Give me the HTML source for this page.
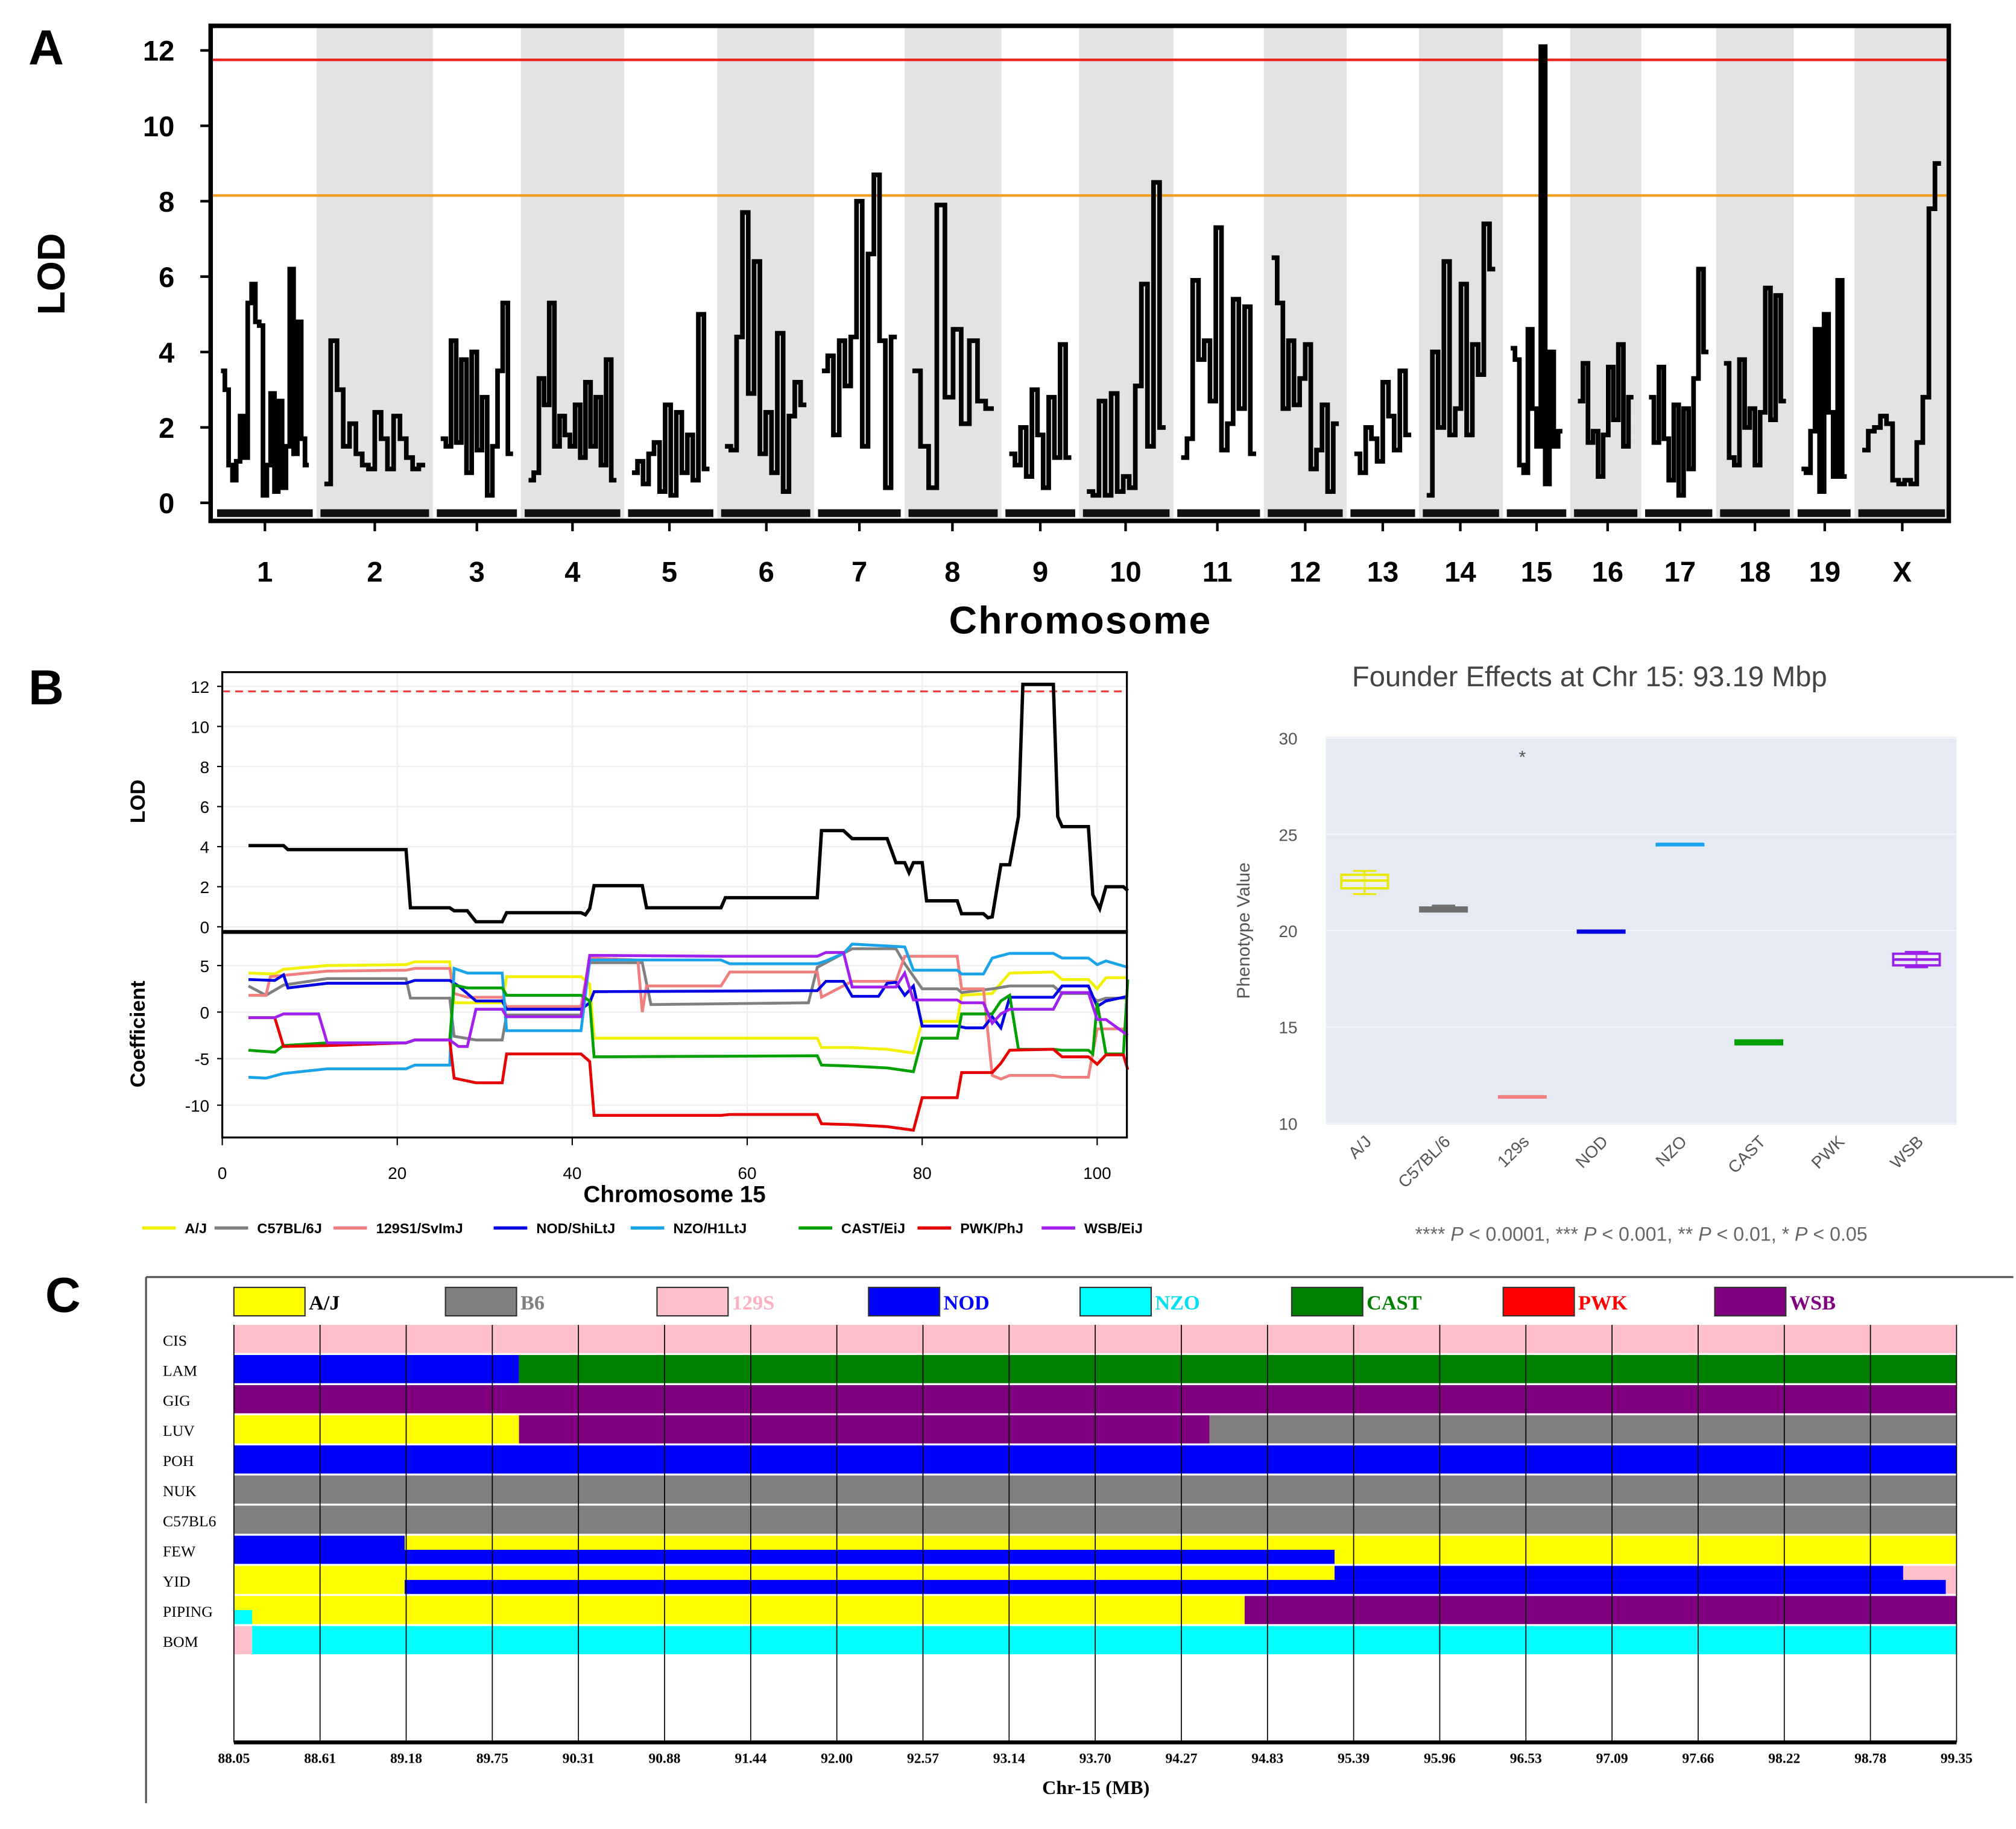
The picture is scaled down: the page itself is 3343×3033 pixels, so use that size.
<!DOCTYPE html>
<html><head><meta charset="utf-8"><style>
html,body{margin:0;padding:0;background:#fff;}
svg{display:block;}
text{font-family:"Liberation Sans",sans-serif;}
.serif{font-family:"Liberation Serif",serif;}
</style></head><body>
<svg id="fig" width="3343" height="3033" viewBox="0 0 1560 1415" preserveAspectRatio="none" xmlns="http://www.w3.org/2000/svg">
<g id="pa"></g>
<g id="pbl"></g>
<g id="pbr"></g>
<g id="pc"></g>
</svg>
<script>
// ---------- Panel A data ----------
const chrNames=["1","2","3","4","5","6","7","8","9","10","11","12","13","14","15","16","17","18","19","X"];
const chrLod=[
[3.5,3,1,0.6,1.1,2.3,1.2,5.3,5.8,4.8,4.7,0.2,1,2.9,0.3,2.7,0.4,1.5,6.2,1.3,4.8,1.7,1],
[0.5,4.3,3,1.5,2.1,1.3,1,0.9,2.4,1.7,0.9,2.3,1.7,1.2,0.9,1],
[1.7,1.5,4.3,1.6,3.8,0.8,4,1.4,2.8,0.2,1.5,3.5,5.3,1.3],
[0.6,0.8,3.3,2.6,5.3,1.5,2.3,1.8,1.5,2.6,1.2,3.2,1.5,2.8,1,3.8,0.6],
[0.8,1.1,0.5,1.3,1.6,0.3,2.6,0.2,2.4,0.8,1.8,0.6,5,0.9],
[1.5,1.4,4.4,7.7,2.9,6.4,1.3,2.4,0.8,4.5,0.3,2.3,3.2,2.6],
[3.5,3.9,1.8,4.3,3.1,4.4,8,1.5,6.6,8.7,4.3,0.4,4.4],
[3.5,1.5,0.4,7.9,2.8,4.6,2.1,4.3,2.7,2.5],
[1.3,1,2,0.7,3,1.8,0.4,2.8,1.2,4.2,1.2],
[0.3,0.2,2.7,0.2,2.9,0.3,0.7,0.4,3.1,5.8,1.5,8.5,2],
[1.2,1.7,5.9,3.8,4.3,2.7,7.3,1.4,2.1,5.4,2.5,5.2,1.3],
[6.5,5.3,2.5,4.3,2.6,3.3,4.2,0.9,1.4,2.6,0.3,2.1],
[1.3,0.8,2,1.7,1.1,3.2,2.3,1.4,3.5,1.8],
[0.2,4,2,6.4,1.8,2.5,5.8,1.8,4.2,3.4,7.4,6.2],
[4.1,3.8,1,0.8,4.6,2.5,1.5,12.1,0.5,4,1.5,1.9],
[2.7,3.7,1.6,1.9,0.7,1.8,3.6,2.2,4.2,1.5,2.8],
[2.8,1.6,3.6,1.7,0.6,2.6,0.2,2.5,0.9,3.3,6.2,4],
[3.7,1.2,1,3.8,2,2.5,1,2.4,5.7,2.2,5.5,2.7],
[0.9,0.8,1.9,4.6,0.3,5,2.4,0.7,5.9,0.7],
[1.4,1.9,2,2.3,2.1,0.6,0.5,0.6,0.5,1.6,2.8,7.8,9]];
const thresholdsA=[11.75,8.15];
const yTicksA=[0,2,4,6,8,10,12];

// ---------- Panel B data ----------
const lodBx=[3,7,7.5,21,21.5,26,26.5,28,29,32,32.5,41,41.5,42,42.5,48,48.5,57,57.5,68,68.5,71,72,76,77,78,78.5,79,80,80.5,84,84.5,87,87.5,88,89,90,91,91.5,95,95.5,96,99,99.5,100.3,101,103,103.5];
const lodBy=[4.05,4.05,3.85,3.85,0.95,0.95,0.8,0.8,0.25,0.25,0.7,0.7,0.6,0.9,2.05,2.05,0.95,0.95,1.45,1.45,4.8,4.8,4.4,4.4,3.2,3.2,2.7,3.2,3.2,1.3,1.3,0.65,0.65,0.45,0.5,3.1,3.1,5.5,12.1,12.1,5.5,5,5,1.6,0.9,2.0,2.0,1.8];
const coefNames=["A/J","C57BL/6J","129S1/SvImJ","NOD/ShiLtJ","NZO/H1LtJ","CAST/EiJ","PWK/PhJ","WSB/EiJ"];
const coefAJ=[[3,4.2],[6,4.1],[7,4.6],[12,5],[21,5.1],[22,5.4],[26,5.4],[26.5,1],[32,1],[32.5,3.8],[41,3.8],[42,3],[42.5,-2.8],[68,-2.8],[68.5,-3.8],[72,-3.8],[76,-4],[79,-4.4],[80,-1],[84,-1],[84.5,1.8],[88,2],[89,3.1],[90,4.2],[95,4.3],[96,3.5],[99,3.5],[100,2.5],[101,3.7],[103.5,3.7]];
const coefB6=[[3,2.8],[5,1.8],[7,2.9],[12,3.6],[21,3.6],[21.5,1.5],[26,1.5],[26.5,-2.6],[29,-3],[32,-3],[32.5,-0.3],[41,-0.3],[42,5.3],[48,5.3],[49,0.8],[67,1],[68,4.8],[72,6.8],[77,6.8],[78,5.2],[80,2.5],[84,2.5],[84.5,2.1],[88,2.5],[90,2.8],[95,2.8],[96,2],[99,2],[100,1.2],[101,1.5],[103.5,1.5]];
const coef129=[[3,1.8],[5,1.8],[5.5,3.8],[12,4.4],[21,4.5],[22,4.7],[26,4.7],[26.5,2],[28,1.6],[32,1.6],[32.5,0.6],[41,0.6],[42,5.8],[47.5,5.6],[48,0],[48.5,2.8],[57,2.8],[58,4.3],[68,4.3],[68.5,1.6],[72,3.3],[77,3.3],[78,6],[84,6],[84.5,2.5],[87,2.5],[88,-6.8],[89,-7.2],[90,-6.8],[95,-6.8],[96,-7],[99,-7],[100,-1.8],[103.5,-1.8]];
const coefNOD=[[3,3.5],[6,3.4],[7,4],[7.5,2.6],[12,3.1],[21,3.1],[22,3.4],[26,3.4],[27,2.8],[29,1.2],[32,1.2],[32.5,0.3],[41,0.3],[42,1],[42.5,2.2],[68,2.3],[69,3.3],[71,3.3],[72,1.7],[75,1.7],[76,3.1],[77,3.2],[78,1.8],[79,2.8],[80,-1.5],[84,-1.5],[85,-1.7],[87,-1.7],[88,-0.5],[89,-1.7],[90,1.6],[95,1.6],[96,2.8],[99,2.8],[100,0.6],[101,1.2],[103.5,1.7]];
const coefNZO=[[3,-7],[5,-7.1],[7,-6.6],[12,-6.1],[21,-6.1],[22,-5.7],[26,-5.7],[26.5,4.7],[28,4.2],[32,4.2],[32.5,-2],[41,-2],[42,5.6],[57,5.6],[58,5.2],[68,5.2],[69,5.5],[71,6.3],[72,7.3],[78,7],[79,4.5],[84,4.5],[84.5,4.1],[87,4.1],[88,5.8],[90,6.3],[95,6.3],[96,5.8],[99,5.8],[100,5.1],[101,5.5],[103.5,4.8]];
const coefCAST=[[3,-4.1],[6,-4.3],[7,-3.6],[12,-3.3],[21,-3.3],[22,-3],[26,-3],[26.5,2.9],[28,2.6],[32,2.6],[32.5,1.8],[41,1.8],[42,1.2],[42.5,-4.8],[68,-4.7],[68.5,-5.7],[72,-5.8],[76,-6],[79,-6.4],[80,-2.8],[84,-2.8],[84.5,-0.2],[88,-0.2],[89,1.2],[90,1.8],[91,-4],[95,-4],[96,-4.1],[99,-4.1],[99.5,-4.5],[100,1],[101,-4.5],[103,-4.5],[103.5,3.5]];
const coefPWK=[[3,-0.6],[6,-0.6],[7,-3.7],[12,-3.6],[21,-3.3],[22,-3],[26,-3],[26.5,-7.1],[29,-7.6],[32,-7.6],[32.5,-4.5],[41,-4.5],[42,-5.3],[42.5,-11.1],[57,-11.1],[58,-11],[68,-11],[68.5,-12],[72,-12.1],[76,-12.3],[79,-12.7],[80,-9.2],[84,-9.2],[84.5,-6.5],[88,-6.5],[89,-5.5],[90,-4.1],[95,-4],[96,-4.8],[99,-4.8],[100,-5.6],[101,-4.6],[103,-4.6],[103.5,-6.2]];
const coefWSB=[[3,-0.6],[6,-0.6],[7,-0.2],[11,-0.2],[12,-3.3],[21,-3.3],[22,-3],[26,-3],[27,-3.7],[28,-3.7],[29,0.3],[32,0.3],[32.5,-0.5],[41,-0.5],[42,6.1],[57,6],[68,6],[69,6.4],[71,6.4],[72,2.7],[77,2.7],[78,4.2],[79,1.3],[84,1.3],[84.5,1],[87,1],[88,-1.2],[89,-0.2],[90,0.3],[95,0.3],[96,2.1],[99,2.1],[100,-0.8],[101,-0.8],[103.5,-2.5]];
const coefColors=["#f2f200","#808080","#f08080","#0000e6","#1aa3e8","#00a000","#e60000","#a020f0"];
const xTicksB=[0,20,40,60,80,100];
const lodTicksB=[0,2,4,6,8,10,12];
const coefTicksB=[5,0,-5,-10];

// ---------- Panel B right data ----------
const founders=["A/J","C57BL/6","129s","NOD","NZO","CAST","PWK","WSB"];
const fQ1=[22.2,21.0,11.4,19.9,24.5,14.1,null,18.2];
const fMed=[22.6,21.1,11.4,19.95,24.5,14.2,null,18.5];
const fQ3=[22.9,21.2,11.4,20.0,24.5,14.3,null,18.8];
const fMin=[21.9,21.0,11.4,19.9,24.5,14.1,null,18.1];
const fMax=[23.1,21.3,11.4,20.0,24.5,14.3,null,18.9];
const fColors=["#e8e800","#707070","#f08080","#0000e0","#1aa3e8","#00a000","#e00000","#9a20e8"];
const outlier129=29.1;
const phenoTicks=[10,15,20,25,30];

// ---------- Panel C data ----------
const mbTicks=["88.05","88.61","89.18","89.75","90.31","90.88","91.44","92.00","92.57","93.14","93.70","94.27","94.83","95.39","95.96","96.53","97.09","97.66","98.22","98.78","99.35"];
const strains=["CIS","LAM","GIG","LUV","POH","NUK","C57BL6","FEW","YID","PIPING","BOM"];
// segments: [startMB, endMB, founder, part(0 full,1 top,2 bottom)]
const hapSegs=[
[[88.05,99.35,"129S",0]],
[[88.05,89.92,"NOD",0],[89.92,99.35,"CAST",0]],
[[88.05,99.35,"WSB",0]],
[[88.05,89.92,"A/J",0],[89.92,94.45,"WSB",0],[94.45,99.35,"B6",0]],
[[88.05,99.35,"NOD",0]],
[[88.05,99.35,"B6",0]],
[[88.05,99.35,"B6",0]],
[[88.05,89.17,"NOD",0],[89.17,99.35,"A/J",1],[89.17,95.27,"NOD",2],[95.27,99.35,"A/J",2]],
[[88.05,95.27,"A/J",1],[95.27,99.0,"NOD",1],[99.0,99.35,"129S",1],[88.05,89.17,"A/J",2],[89.17,99.28,"NOD",2],[99.28,99.35,"129S",2]],
[[88.05,94.68,"A/J",0],[94.68,99.35,"WSB",0],[88.05,88.17,"NZO",2]],
[[88.05,88.17,"129S",0],[88.17,99.35,"NZO",0]]];
const hapFounders=["A/J","B6","129S","NOD","NZO","CAST","PWK","WSB"];
const hapColors={"A/J":"#ffff00","B6":"#808080","129S":"#ffc0cb","NOD":"#0000ff","NZO":"#00ffff","CAST":"#008000","PWK":"#ff0000","WSB":"#800080"};
const hapTextColors={"A/J":"#000","B6":"#808080","129S":"#ffb0c0","NOD":"#0000ff","NZO":"#00e0f0","CAST":"#008000","PWK":"#ff0000","WSB":"#800080"};

const NS="http://www.w3.org/2000/svg";
function mk(parent,tag,attrs,txt){const e=document.createElementNS(NS,tag);for(const k in attrs)e.setAttribute(k,attrs[k]);if(txt!==undefined)e.textContent=txt;parent.appendChild(e);return e;}

// ================= PANEL A =================
(function(){
const g=document.getElementById('pa');
const L=163,R=1508,T=20,B=403;
const yA=v=>389-v*(350/12);
const bounds=[165,245,335,403,483,555,630,700,775,835,908,978,1042,1098,1163,1215,1270,1328,1388,1435,1508];
const labX=[205,290,369,443,518,593,665,737,805,871,942,1010,1070,1130,1189,1244,1300,1358,1412,1472];
let t=mk(g,'text',{x:22,y:50,'font-size':38,'font-weight':'bold'},'A');

for(let i=0;i<20;i++){
  if(i%2===1){const r=mk(g,'rect',{x:bounds[i],y:T,width:bounds[i+1]-bounds[i],height:B-T,fill:'#e3e3e3'});
  }
}
thresholdsA.forEach((v,i)=>{const l=mk(g,'line',{x1:L,x2:R,y1:yA(v),y2:yA(v),stroke:i===0?'#e8241c':'#f0a020','stroke-width':2});
});
for(let i=0;i<20;i++){
  const x0=bounds[i]+6,x1=bounds[i+1]-6,vals=chrLod[i],n=vals.length,w=(x1-x0)/n;
  let d='';
  vals.forEach((v,j)=>{const xa=x0+j*w,xb=xa+w;d+=(j===0?'M':'L')+xa.toFixed(1)+','+yA(v).toFixed(1)+'L'+xb.toFixed(1)+','+yA(v).toFixed(1);});
  const p=mk(g,'path',{d:d,fill:'none',stroke:'#000','stroke-width':3.6,'stroke-linejoin':'miter'});
  
  const rg=mk(g,'rect',{x:bounds[i]+3,y:394,width:bounds[i+1]-bounds[i]-6,height:6,fill:'#111'});
  
  const tk=mk(g,'line',{x1:labX[i],x2:labX[i],y1:B,y2:B+8,stroke:'#000','stroke-width':2});
  
  const tl=mk(g,'text',{x:labX[i],y:450,'font-size':22,'font-weight':'bold','text-anchor':'middle'},chrNames[i]);
  
}
const fr=mk(g,'rect',{x:L,y:T,width:R-L,height:B-T,fill:'none',stroke:'#000','stroke-width':3.5});

yTicksA.forEach(v=>{const l=mk(g,'line',{x1:L-8,x2:L,y1:yA(v),y2:yA(v),stroke:'#000','stroke-width':2});

const tx=mk(g,'text',{x:L-28,y:yA(v)+8,'font-size':22,'font-weight':'bold','text-anchor':'end'},String(v));
});
t=mk(g,'text',{x:0,y:0,'font-size':30,'font-weight':'bold','text-anchor':'middle',transform:'translate(50,212) rotate(-90)'},'LOD');

t=mk(g,'text',{x:836,y:490,'font-size':30,'font-weight':'bold','text-anchor':'middle','letter-spacing':'1'},'Chromosome');

})();

// ================= PANEL B LEFT =================
(function(){
const g=document.getElementById('pbl');
const L=172,R=872,T=520,M=721,B=880;
const xB=v=>L+v*6.77;
const yL=v=>717-v*15.5;
const yC=v=>783-v*7.2;
let t=mk(g,'text',{x:22,y:545,'font-size':38,'font-weight':'bold'},'B');

xTicksB.forEach(v=>{mk(g,'line',{x1:xB(v),x2:xB(v),y1:T,y2:B,stroke:'#eee','stroke-width':1});});
lodTicksB.forEach(v=>{mk(g,'line',{x1:L,x2:R,y1:yL(v),y2:yL(v),stroke:'#eee','stroke-width':1});});
coefTicksB.forEach(v=>{mk(g,'line',{x1:L,x2:R,y1:yC(v),y2:yC(v),stroke:'#eee','stroke-width':1});});
let l=mk(g,'line',{x1:L,x2:R,y1:yL(11.75),y2:yL(11.75),stroke:'#f04040','stroke-width':1.5,'stroke-dasharray':'6,4'});

let d=lodBx.map((x,i)=>(i?'L':'M')+xB(x).toFixed(1)+','+yL(lodBy[i]).toFixed(1)).join('');
let p=mk(g,'path',{d:d,fill:'none',stroke:'#000','stroke-width':2.6});

const series=[coefAJ,coefB6,coef129,coefNOD,coefNZO,coefCAST,coefPWK,coefWSB];
series.forEach((s,i)=>{const dd=s.map((pt,j)=>(j?'L':'M')+xB(pt[0]).toFixed(1)+','+yC(pt[1]).toFixed(1)).join('');
const pp=mk(g,'path',{d:dd,fill:'none',stroke:coefColors[i],'stroke-width':2.2});
});
const f1=mk(g,'rect',{x:L,y:T,width:R-L,height:M-T,fill:'none',stroke:'#000','stroke-width':1.5});

mk(g,'line',{x1:L,x2:R,y1:M,y2:M,stroke:'#000','stroke-width':3});
const f2=mk(g,'rect',{x:L,y:M,width:R-L,height:B-M,fill:'none',stroke:'#000','stroke-width':1.5});

lodTicksB.forEach(v=>{const tx=mk(g,'text',{x:L-10,y:yL(v)+5,'font-size':13,'text-anchor':'end'},String(v));

mk(g,'line',{x1:L-4,x2:L,y1:yL(v),y2:yL(v),stroke:'#000'});});
coefTicksB.forEach(v=>{const tx=mk(g,'text',{x:L-10,y:yC(v)+5,'font-size':13,'text-anchor':'end'},String(v));

mk(g,'line',{x1:L-4,x2:L,y1:yC(v),y2:yC(v),stroke:'#000'});});
xTicksB.forEach(v=>{mk(g,'line',{x1:xB(v),x2:xB(v),y1:B,y2:B+6,stroke:'#000'});
const tx=mk(g,'text',{x:xB(v),y:912,'font-size':13,'text-anchor':'middle'},String(v));
});
t=mk(g,'text',{x:0,y:0,'font-size':16,'font-weight':'bold','text-anchor':'middle',transform:'translate(112,620) rotate(-90)'},'LOD');

t=mk(g,'text',{x:0,y:0,'font-size':16,'font-weight':'bold','text-anchor':'middle',transform:'translate(112,800) rotate(-90)'},'Coefficient');

t=mk(g,'text',{x:522,y:930,'font-size':18,'font-weight':'bold','text-anchor':'middle'},'Chromosome 15');

const legX=[110,166,258,382,488,618,710,806];
coefNames.forEach((n,i)=>{const lg=mk(g,'g',{});

mk(lg,'line',{x1:legX[i],x2:legX[i]+26,y1:950,y2:950,stroke:coefColors[i],'stroke-width':2.5});
mk(lg,'text',{x:legX[i]+33,y:954,'font-size':11,'font-weight':'bold'},n);});
})();

// ================= PANEL B RIGHT =================
(function(){
const g=document.getElementById('pbr');
const L=1026,R=1514,T=570,B=870;
const yP=v=>869-(v-10)*14.9;
const xs=i=>1056+i*61;
let t=mk(g,'text',{x:1230,y:531,'font-size':22,fill:'#444','text-anchor':'middle'},'Founder Effects at Chr 15: 93.19 Mbp');

const bg=mk(g,'rect',{x:L,y:T,width:R-L,height:B-T,fill:'#e5eaf4'});

phenoTicks.forEach(v=>{mk(g,'line',{x1:L,x2:R,y1:yP(v),y2:yP(v),stroke:'#f4f6fa','stroke-width':1});
const tx=mk(g,'text',{x:1004,y:yP(v)+5,'font-size':13,fill:'#555','text-anchor':'end'},String(v));
});
t=mk(g,'text',{x:0,y:0,'font-size':14,fill:'#555','text-anchor':'middle',transform:'translate(967,720) rotate(-90)'},'Phenotype Value');

founders.forEach((f,i)=>{
  const x=xs(i);
  if(fMed[i]!==null){
    const bx=mk(g,'g',{});
    
    const w=36;
    mk(bx,'line',{x1:x,x2:x,y1:yP(fMax[i]),y2:yP(fMin[i]),stroke:fColors[i],'stroke-width':1.5});
    mk(bx,'rect',{x:x-w/2,y:yP(fQ3[i]),width:w,height:Math.max(1,yP(fQ1[i])-yP(fQ3[i])),fill:'rgba(255,255,255,0.3)',stroke:fColors[i],'stroke-width':1.8});
    mk(bx,'line',{x1:x-w/2,x2:x+w/2,y1:yP(fMed[i]),y2:yP(fMed[i]),stroke:fColors[i],'stroke-width':2});
    mk(bx,'line',{x1:x-w/4,x2:x+w/4,y1:yP(fMax[i]),y2:yP(fMax[i]),stroke:fColors[i],'stroke-width':1.5});
    mk(bx,'line',{x1:x-w/4,x2:x+w/4,y1:yP(fMin[i]),y2:yP(fMin[i]),stroke:fColors[i],'stroke-width':1.5});
  }
  const tx=mk(g,'text',{x:0,y:0,'font-size':13,fill:'#555','text-anchor':'end',transform:'translate('+(x+6)+',884) rotate(-45)'},f);
  
});
t=mk(g,'text',{x:xs(2),y:yP(outlier129)+6,'font-size':14,fill:'#555','text-anchor':'middle'},'*');

t=mk(g,'text',{x:1270,y:960,'font-size':15,fill:'#666','text-anchor':'middle'});

t.innerHTML='**** <tspan font-style="italic">P</tspan> &lt; 0.0001, *** <tspan font-style="italic">P</tspan> &lt; 0.001, ** <tspan font-style="italic">P</tspan> &lt; 0.01, * <tspan font-style="italic">P</tspan> &lt; 0.05';
})();

// ================= PANEL C =================
(function(){
const g=document.getElementById('pc');
const L=181,R=1514;
const xM=mb=>L+(mb-88.05)/(99.35-88.05)*(R-L);
const rowTop=1025,rowH=23.3;
let t=mk(g,'text',{x:35,y:1015,'font-size':38,'font-weight':'bold'},'C');

mk(g,'line',{x1:113,x2:1558,y1:988,y2:988,stroke:'#555','stroke-width':1.5});
mk(g,'line',{x1:113,x2:113,y1:988,y2:1395,stroke:'#555','stroke-width':1.5});
hapFounders.forEach((f,i)=>{const x=181+i*163.7;const lg=mk(g,'g',{});

mk(lg,'rect',{x:x,y:996,width:55,height:22,fill:hapColors[f],stroke:'#333','stroke-width':1});
mk(lg,'text',{x:x+58,y:1013,'font-size':16,'font-weight':'bold',fill:hapTextColors[f],class:'serif'},f);});
strains.forEach((s,i)=>{
  const y=rowTop+i*rowH;
  const rg=mk(g,'g',{});
  
  hapSegs[i].forEach(sg=>{
    const hh=rowH-1.5;
    const yy=sg[3]===2?y+hh/2:y, h=sg[3]===0?hh:hh/2;
    mk(rg,'rect',{x:xM(sg[0]),y:yy,width:xM(sg[1])-xM(sg[0]),height:h,fill:hapColors[sg[2]]});
  });
  mk(rg,'text',{x:126,y:y+16,'font-size':12,class:'serif'},s);
});
mbTicks.forEach((m,i)=>{const x=L+i*(R-L)/20;
const l=mk(g,'line',{x1:x,x2:x,y1:rowTop,y2:1348,stroke:'#000','stroke-width':0.8});

const tx=mk(g,'text',{x:x,y:1364,'font-size':11,'font-weight':'bold','text-anchor':'middle',class:'serif'},m);
});
mk(g,'line',{x1:L,x2:R,y1:1348,y2:1348,stroke:'#000','stroke-width':3});
t=mk(g,'text',{x:848,y:1388,'font-size':15,'font-weight':'bold','text-anchor':'middle',class:'serif'},'Chr-15 (MB)');

})();
</script>
</body></html>
